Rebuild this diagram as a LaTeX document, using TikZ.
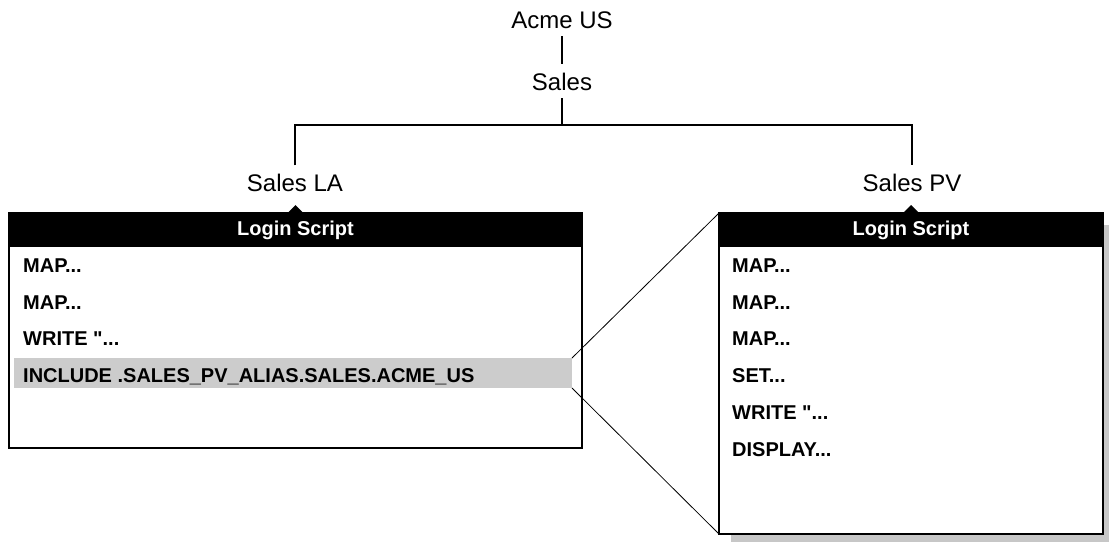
\documentclass[tikz,border=0pt]{standalone}
\usepackage{fontspec}
\setmainfont{Liberation Sans}[Ligatures=TeXOff]
\definecolor{bandgray}{gray}{0.80}
\definecolor{shadowgray}{gray}{0.78}
\begin{document}
\begin{tikzpicture}[x=1pt,y=-1pt,
  treelabel/.style={font=\fontsize{24}{28}\selectfont, inner sep=8pt},
  tree/.style={line width=2.5pt},
  panel/.style={draw, line width=2.5pt, fill=white, inner sep=0pt, outer sep=0pt},
  header/.style={fill=black, text=white, font=\bfseries\fontsize{20}{24}\selectfont,
    inner sep=0pt, outer sep=0pt, minimum height=34pt},
  row/.style={font=\bfseries\fontsize{20}{24}\selectfont, anchor=base west, inner sep=0pt},
  zoomline/.style={line width=0.8pt},
]
\useasboundingbox (0,0) rectangle (1109,542);

% organisation tree
\node[treelabel, anchor=base] (acme) at (562,28) {Acme US};
\node[treelabel, anchor=base] (sales) at (562,90) {Sales};
\node[treelabel, anchor=base] (salesLA) at (295,191) {Sales LA};
\node[treelabel, anchor=base] (salesPV) at (912,191) {Sales PV};
\coordinate (split) at (562,125);
\draw[tree] (acme) -- (sales);
\draw[tree] (sales) -- (split);
\draw[tree] (salesLA.north) |- (split) -| (salesPV.north);

% Sales LA login script
\node[panel, minimum width=573, minimum height=235, anchor=north west] (lbox) at (9,213) {};
\node[header, minimum width=573, anchor=north] (lhead) at (lbox.north) {Login Script};
\fill ([xshift=-8pt]lhead.north) -- ([yshift=8pt]lhead.north) -- ([xshift=8pt]lhead.north) -- cycle;
\node[fill=bandgray, inner sep=0pt, outer sep=0pt, minimum width=558, minimum height=30, anchor=north west] (band) at (14,358) {};
\node[row] (l1) at (23,272) {MAP...};
\node[row] (l2) at (23,309) {MAP...};
\node[row] (l3) at (23,345) {WRITE "...};
\node[row] (l4) at (23,382) {INCLUDE .SALES\_PV\_ALIAS.SALES.ACME\_US};

% Sales PV login script, with drop shadow
\fill[shadowgray] (731,225) rectangle (1109,542);
\node[panel, minimum width=384, minimum height=321, anchor=north west] (rbox) at (719,213) {};
\node[header, minimum width=384, anchor=north] (rhead) at (rbox.north) {Login Script};
\fill ([xshift=-8pt]rhead.north) -- ([yshift=8pt]rhead.north) -- ([xshift=8pt]rhead.north) -- cycle;
\node[row] (r1) at (732,272) {MAP...};
\node[row] (r2) at (732,309) {MAP...};
\node[row] (r3) at (732,345) {MAP...};
\node[row] (r4) at (732,382) {SET...};
\node[row] (r5) at (732,419) {WRITE "...};
\node[row] (r6) at (732,456) {DISPLAY...};

% expansion lines from the INCLUDE line to the included script
\draw[zoomline] (band.north east) -- (rbox.north west);
\draw[zoomline] (band.south east) -- (rbox.south west);
\end{tikzpicture}
\end{document}
